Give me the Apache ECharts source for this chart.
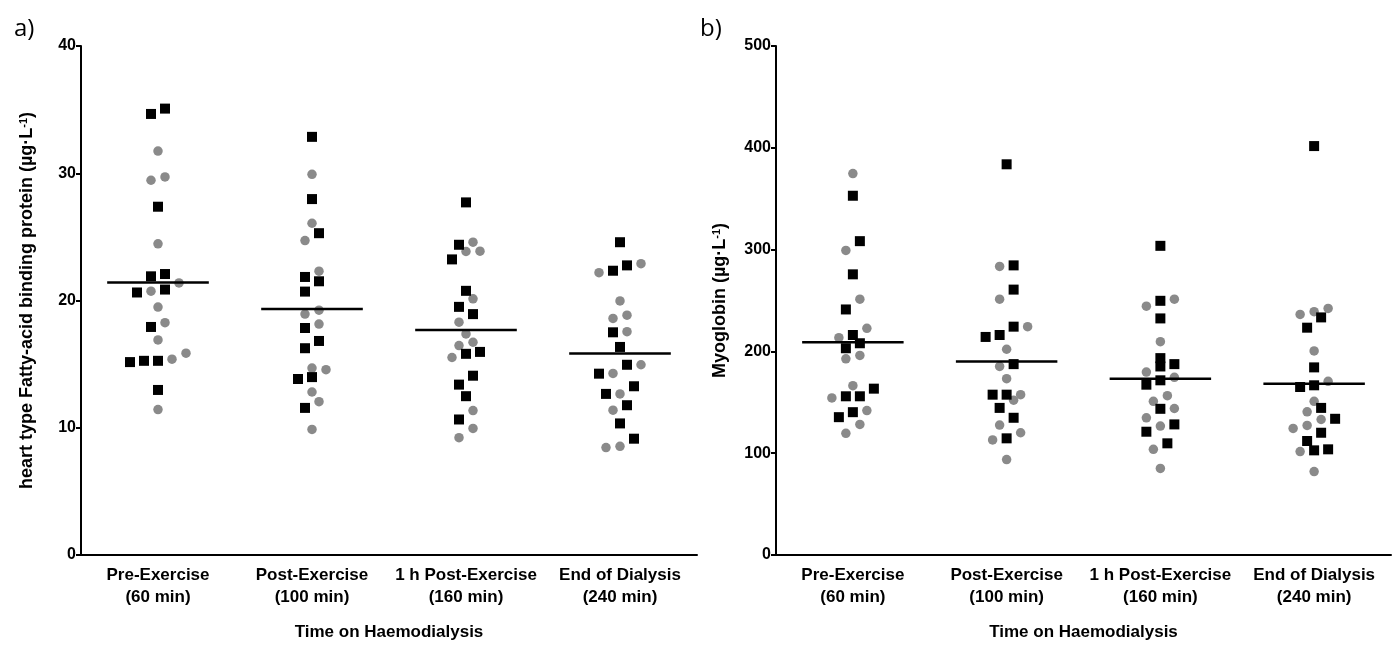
<!DOCTYPE html>
<html><head><meta charset="utf-8">
<script src="https://cdn.jsdelivr.net/npm/echarts@6/dist/echarts.min.js"></script>
<style>html,body{margin:0;padding:0;background:#fff}#c{width:1397px;height:646px}</style>
</head><body><div id="c"></div><script>
// ---- data ----
const categories = ['Pre-Exercise\n(60 min)', 'Post-Exercise\n(100 min)', '1 h Post-Exercise\n(160 min)', 'End of Dialysis\n(240 min)'];
const xAxisTitle = 'Time on Haemodialysis';
const hfabpTicks = [0, 10, 20, 30, 40];
const myoTicks = [0, 100, 200, 300, 400, 500];

// panel a: H-FABP (µg·L-1), black squares / grey circles, per time point
const hfabpSquares = [
  [35.08, 34.66, 27.37, 22.08, 21.9, 20.86, 20.63, 17.92, 15.26, 15.16, 15.26, 12.97],
  [32.86, 27.97, 25.29, 21.85, 21.51, 20.7, 17.84, 16.82, 16.25, 13.98, 13.83, 11.56],
  [27.71, 24.38, 23.23, 20.76, 19.5, 18.93, 15.96, 15.81, 14.09, 13.39, 12.48, 10.65],
  [24.58, 22.34, 22.76, 17.5, 16.35, 14.95, 14.25, 13.26, 12.66, 11.77, 10.34, 9.14]
];
const hfabpCircles = [
  [31.74, 29.45, 29.71, 24.45, 21.38, 20.73, 19.48, 18.26, 16.9, 15.86, 15.39, 11.43],
  [29.92, 26.07, 24.71, 22.3, 19.24, 18.93, 18.15, 14.56, 14.69, 12.81, 12.05, 9.87],
  [24.58, 23.85, 23.88, 20.13, 18.3, 17.37, 16.72, 16.46, 15.52, 11.35, 9.95, 9.22],
  [22.89, 22.19, 19.97, 18.59, 18.85, 17.55, 14.95, 14.27, 12.66, 11.38, 8.44, 8.54]
];
// panel b: Myoglobin (µg·L-1)
const myoSquares = [
  [352.9, 308.3, 275.7, 241.2, 216.1, 208.0, 203.1, 163.4, 155.9, 155.9, 140.3, 135.4],
  [383.8, 284.5, 260.7, 224.3, 216.1, 214.2, 187.5, 157.5, 157.5, 144.5, 134.8, 114.6],
  [303.7, 249.7, 232.4, 193.4, 187.5, 185.2, 171.6, 167.3, 143.6, 128.3, 121.1, 109.7],
  [401.7, 233.4, 223.3, 184.3, 165.0, 166.7, 144.5, 133.8, 120.1, 112.0, 102.8, 103.8]
];
const myoCircles = [
  [374.7, 299.2, 251.3, 222.7, 213.5, 196.0, 192.7, 166.3, 154.3, 141.9, 128.3, 119.5],
  [283.5, 251.3, 224.3, 202.1, 185.2, 173.2, 152.0, 157.5, 127.6, 120.1, 113.0, 93.75],
  [244.4, 251.3, 209.6, 179.7, 174.5, 156.5, 151.0, 143.9, 134.8, 126.6, 103.8, 85.0],
  [239.0, 242.2, 236.3, 200.5, 170.6, 151.0, 140.6, 133.1, 127.3, 124.3, 101.6, 82.0]
];

// ---- layout ----
const W = 1397, H = 646;
const gridA = {left: 81, right: 700, top: 46, bottom: 88};
const gridB = {left: 776, right: 6, top: 46, bottom: 88};
const FONT = '"Liberation Sans", Arial, sans-serif';
const SQ = 10, CI = 9.5, STEP = 14, ROWPX = 10.5, HALF = 0.33;

function mean(a){ return a.reduce((s, v) => s + v, 0) / a.length; }

// simple beeswarm: points close in value share a row and are spread symmetrically
function swarm(sq, ci, grid, yMax) {
  const pxX = (W - grid.left - grid.right) / categories.length;
  const pxY = (H - grid.top - grid.bottom) / yMax;
  const outS = [], outC = [];
  for (let g = 0; g < categories.length; g++) {
    const pts = sq[g].map(v => ({v, k: 0})).concat(ci[g].map(v => ({v, k: 1})));
    pts.sort((a, b) => a.v - b.v);
    const rows = [];
    let row = [];
    for (const p of pts) {
      if (row.length && (p.v - row[0].v) * pxY >= ROWPX) { rows.push(row); row = []; }
      row.push(p);
    }
    if (row.length) rows.push(row);
    for (const r of rows) {
      const n = r.length;
      r.forEach((p, i) => {
        const x = g + 1 + ((i - (n - 1) / 2) * STEP) / pxX;
        (p.k ? outC : outS).push([x, p.v]);
      });
    }
  }
  return {outS, outC};
}

const sa = swarm(hfabpSquares, hfabpCircles, gridA, 40);
const sb = swarm(myoSquares, myoCircles, gridB, 500);
const meansA = categories.map((c, i) => [i + 1, mean(hfabpSquares[i].concat(hfabpCircles[i]))]);
const meansB = categories.map((c, i) => [i + 1, mean(myoSquares[i].concat(myoCircles[i]))]);

function catAxis(gi) {
  return {
    type: 'category', gridIndex: gi, data: categories, boundaryGap: true,
    axisLine: {lineStyle: {color: '#000', width: 2}},
    axisTick: {alignWithLabel: true, length: 5, lineStyle: {color: '#000', width: 2}},
    axisLabel: {interval: 0, color: '#000', fontFamily: FONT, fontWeight: 'bold', fontSize: 17, lineHeight: 22, margin: 9},
    name: xAxisTitle, nameLocation: 'middle', nameGap: 69,
    nameTextStyle: {color: '#000', fontFamily: FONT, fontWeight: 'bold', fontSize: 17}
  };
}
function valX(gi) { return {type: 'value', gridIndex: gi, min: 0.5, max: 4.5, show: false}; }
function valY(gi, ticks, name, gap) {
  return {
    type: 'value', gridIndex: gi, min: ticks[0], max: ticks[ticks.length - 1], interval: ticks[1] - ticks[0],
    axisLine: {show: true, lineStyle: {color: '#000', width: 2}},
    axisTick: {show: true, length: 5, lineStyle: {color: '#000', width: 2}},
    splitLine: {show: false},
    axisLabel: {color: '#000', fontFamily: FONT, fontWeight: 'bold', fontSize: 16, margin: 5},
    name: name, nameLocation: 'middle', nameGap: gap, nameRotate: 90,
    nameTextStyle: {color: '#000', fontFamily: FONT, fontWeight: 'bold', fontSize: 18,
      rich: {
        n: {color: '#000', fontFamily: FONT, fontWeight: 'bold', fontSize: 18},
        s: {color: '#000', fontFamily: FONT, fontWeight: 'bold', fontSize: 11, verticalAlign: 'top'}
      }}
  };
}
function meanSeries(xi, yi, data) {
  return {
    type: 'custom', xAxisIndex: xi, yAxisIndex: yi, data: data, z: 5, silent: true,
    renderItem: (params, api) => {
      const x = api.value(0), y = api.value(1);
      const p1 = api.coord([x - HALF, y]), p2 = api.coord([x + HALF, y]);
      return {type: 'line', shape: {x1: p1[0], y1: p1[1], x2: p2[0], y2: p2[1]},
              style: {stroke: '#000', lineWidth: 2.5}};
    }
  };
}
function scat(xi, yi, data, sym, size, color) {
  return {type: 'scatter', xAxisIndex: xi, yAxisIndex: yi, data: data, symbol: sym, symbolSize: size,
          itemStyle: {color: color, opacity: 1}, z: 3, silent: true};
}

const chart = echarts.init(document.getElementById('c'), null, {renderer: 'canvas'});
chart.setOption({
  animation: false,
  backgroundColor: '#fff',
  graphic: [
    {type: 'text', left: 14, top: 17, style: {text: 'a)', font: '24px "Open Sans", sans-serif', fill: '#000'}},
    {type: 'text', left: 700, top: 17, style: {text: 'b)', font: '24px "Open Sans", sans-serif', fill: '#000'}}
  ],
  grid: [gridA, gridB],
  xAxis: [catAxis(0), valX(0), catAxis(1), valX(1)],
  yAxis: [
    valY(0, hfabpTicks, '{n|heart type Fatty-acid binding protein (µg·L}{s|-1}{n|)}', 45),
    valY(1, myoTicks, '{n|Myoglobin (µg·L}{s|-1}{n|)}', 47)
  ],
  series: [
    scat(1, 0, sa.outC, 'circle', CI, '#8a8a8a'),
    scat(1, 0, sa.outS, 'rect', SQ, '#000'),
    meanSeries(1, 0, meansA),
    scat(3, 1, sb.outC, 'circle', CI, '#8a8a8a'),
    scat(3, 1, sb.outS, 'rect', SQ, '#000'),
    meanSeries(3, 1, meansB)
  ]
});
</script></body></html>
